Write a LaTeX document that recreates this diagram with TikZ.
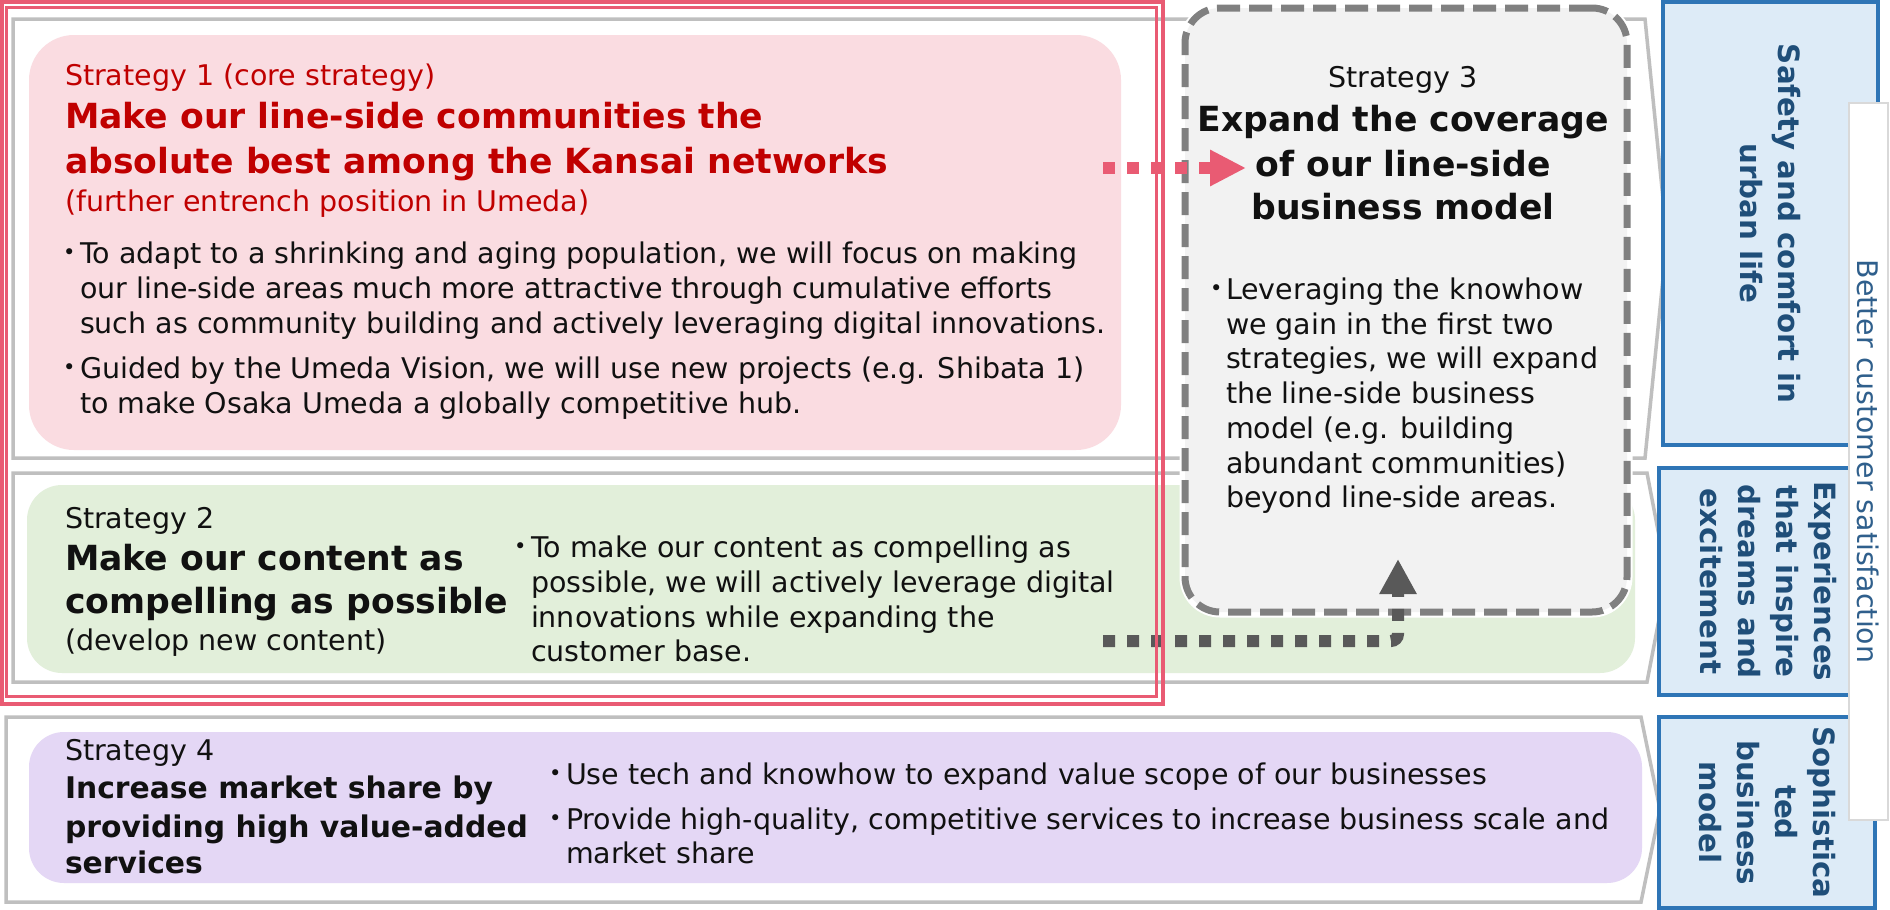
\documentclass[tikz,border=0pt]{standalone}
\usepackage{fontspec}
\setmainfont{DejaVu Sans}
\usetikzlibrary{arrows.meta}
\definecolor{ink}{HTML}{111111}
\definecolor{stratred}{HTML}{C00000}
\definecolor{framered}{HTML}{E95B73}
\definecolor{framegray}{HTML}{BFBFBF}
\definecolor{pinkfill}{HTML}{FADCE1}
\definecolor{greenfill}{HTML}{E2EFDA}
\definecolor{lilacfill}{HTML}{E4D7F5}
\definecolor{boxgray}{HTML}{F2F2F2}
\definecolor{dashgray}{HTML}{808080}
\definecolor{arrowgray}{HTML}{595959}
\definecolor{bluefill}{HTML}{DDEBF7}
\definecolor{blueline}{HTML}{2E75B6}
\definecolor{bluetext}{HTML}{1F4E79}
\definecolor{striptext}{HTML}{2F5F8C}
\definecolor{stripline}{HTML}{D9D9D9}

\begin{document}
\begin{tikzpicture}[x=1pt,y=-1pt,
  reg/.style={font=\fontsize{28.5}{34}\selectfont, text=ink, inner sep=0pt, outer sep=0pt, anchor=base west},
  hd/.style={font=\fontsize{34.6}{42}\selectfont\bfseries, text=ink, inner sep=0pt, outer sep=0pt, anchor=base west},
  hdsmall/.style={font=\fontsize{29.8}{38}\selectfont\bfseries, text=ink, inner sep=0pt, outer sep=0pt, anchor=base west},
  bul/.style={font=\fontsize{21}{26}\selectfont, text=ink, inner sep=0pt, outer sep=0pt, anchor=base west},
  frame/.style={draw=framegray, line width=3.5pt, line join=miter},
  softbox/.style={draw=none, rounded corners=#1, inner sep=0pt, outer sep=0pt},
  label/.style={draw=blueline, fill=bluefill, line width=3.5pt, inner sep=0pt, outer sep=0pt,
    rotate=-90, align=center, text=bluetext, font=\fontsize{29.3}{38}\selectfont\bfseries},
  pinkarrow/.style={draw=framered, line width=12pt, line cap=butt, dash pattern=on 12pt off 12pt,
    -{Triangle[length=36pt,width=34pt]}},
  grayarrow/.style={draw=arrowgray, line width=12pt, line cap=butt, dash pattern=on 12pt off 12pt,
    rounded corners=7pt, -{Triangle[length=35pt,width=35pt]}}
]
\useasboundingbox (0,0) rectangle (1890,910);
\fill[white] (0,0) rectangle (1890,910);

% gray chevron frames behind each strategy row
\draw[frame] (13,19) -- (1645,19) -- (1667,238.5) -- (1645,458) -- (13,458) -- cycle;
\draw[frame] (13,473) -- (1647,473) -- (1667,577.5) -- (1647,682) -- (13,682) -- cycle;
\draw[frame] (6,717) -- (1641,717) -- (1660,809.5) -- (1641,902) -- (6,902) -- cycle;

% coloured strategy panels
\node[softbox=45pt, fill=pinkfill, minimum width=1092pt, minimum height=415pt] (s1box) at (575,242.5) {};
\node[softbox=35pt, fill=greenfill, minimum width=1608pt, minimum height=188pt] (s2box) at (831,579) {};
\node[softbox=35pt, fill=lilacfill, minimum width=1613pt, minimum height=151pt] (s4box) at (835.5,807.5) {};

% strategy 3 dashed panel
\node[draw=dashgray, fill=boxgray, line width=7pt, dash pattern=on 23pt off 9pt, rounded corners=35pt,
  preaction={draw=white, line width=11pt, solid},
  minimum width=442pt, minimum height=604pt, inner sep=0pt, outer sep=0pt] (s3box) at (1406,310) {};

% dotted connectors into strategy 3
\coordinate (pa0) at (1103,168);
\coordinate (pa1) at (1246,168);
\draw[pinkarrow] (pa0) -- (pa1);
\coordinate (ga0) at (1103,641);
\coordinate (ga1) at (1398,641);
\coordinate (ga2) at (1398,559);
\draw[grayarrow] (ga0) -- (ga1) -- (ga2);

% double red frame round strategies 1 and 2
\draw[framered, line width=4pt] (2,2) rectangle (1163,704);
\draw[framered, line width=3pt] (6.5,7.5) rectangle (1156,696.5);

% strategy 1
\node[reg, text=stratred] (s1tag) at (65,85) {Strategy 1 (core strategy)};
\node[hd, text=stratred] (s1h1) at (65,128) {Make our line-side communities the};
\node[hd, text=stratred] (s1h2) at (65,173) {absolute best among the Kansai networks};
\node[reg, text=stratred] (s1sub) at (65,211) {(further entrench position in Umeda)};
\node[bul] (s1d1) at (63,259.5) {•};
\node[reg] (s1a1) at (80,263) {To adapt to a shrinking and aging population, we will focus on making};
\node[reg] (s1a2) at (80,298) {our line-side areas much more attractive through cumulative efforts};
\node[reg] (s1a3) at (80,333) {such as community building and actively leveraging digital innovations.};
\node[bul] (s1d2) at (63,374.5) {•};
\node[reg] (s1b1) at (80,378) {Guided by the Umeda Vision, we will use new projects (e.g. Shibata 1)};
\node[reg] (s1b2) at (80,413) {to make Osaka Umeda a globally competitive hub.};

% strategy 3
\node[reg, anchor=base] (s3tag) at (1403,87) {Strategy 3};
\node[hd, anchor=base] (s3h1) at (1403,131) {Expand the coverage};
\node[hd, anchor=base] (s3h2) at (1403,176) {of our line-side};
\node[hd, anchor=base] (s3h3) at (1403,219) {business model};
\node[bul] (s3d1) at (1210,295.5) {•};
\node[reg] (s3a1) at (1226,299) {Leveraging the knowhow};
\node[reg] (s3a2) at (1226,334) {we gain in the first two};
\node[reg] (s3a3) at (1226,368) {strategies, we will expand};
\node[reg] (s3a4) at (1226,403) {the line-side business};
\node[reg] (s3a5) at (1226,438) {model (e.g. building};
\node[reg] (s3a6) at (1226,473) {abundant communities)};
\node[reg] (s3a7) at (1226,507) {beyond line-side areas.};

% strategy 2
\node[reg] (s2tag) at (65,528) {Strategy 2};
\node[hd] (s2h1) at (65,570) {Make our content as};
\node[hd] (s2h2) at (65,613) {compelling as possible};
\node[reg] (s2sub) at (65,650) {(develop new content)};
\node[bul] (s2d1) at (514,553.5) {•};
\node[reg] (s2a1) at (531,557) {To make our content as compelling as};
\node[reg] (s2a2) at (531,592) {possible, we will actively leverage digital};
\node[reg] (s2a3) at (531,627) {innovations while expanding the};
\node[reg] (s2a4) at (531,661) {customer base.};

% strategy 4
\node[reg] (s4tag) at (65,760) {Strategy 4};
\node[hdsmall] (s4h1) at (65,798) {Increase market share by};
\node[hdsmall] (s4h2) at (65,837) {providing high value-added};
\node[hdsmall] (s4h3) at (65,873) {services};
\node[bul] (s4d1) at (549,780.5) {•};
\node[reg] (s4a1) at (566,784) {Use tech and knowhow to expand value scope of our businesses};
\node[bul] (s4d2) at (549,825.5) {•};
\node[reg] (s4b1) at (566,829) {Provide high-quality, competitive services to increase business scale and};
\node[reg] (s4b2) at (566,863) {market share};

% value labels on the right
\node[label, minimum width=443pt, minimum height=215pt] (v1) at (1770.5,223.5) {Safety and comfort in\\urban life};
\node[label, minimum width=227pt, minimum height=219pt] (v2) at (1768.5,581.5) {Experiences\\that inspire\\dreams and\\excitement};
\node[label, minimum width=191pt, minimum height=216pt] (v3) at (1767,812.5) {Sophistica\\ted\\business\\model};

% overall outcome strip
\node[draw=stripline, fill=white, line width=2pt, minimum width=39pt, minimum height=717pt,
  inner sep=0pt, outer sep=0pt] (strip) at (1868.5,461.5) {};
\node[rotate=-90, inner sep=0pt, text=striptext, font=\fontsize{28.4}{34}\selectfont] (stripText) at (strip.center) {Better customer satisfaction};
\end{tikzpicture}
\end{document}
